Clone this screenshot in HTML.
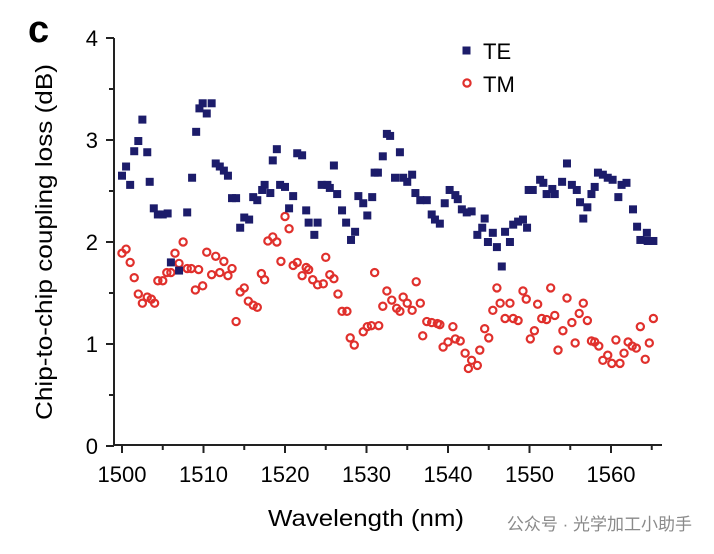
<!DOCTYPE html>
<html><head><meta charset="utf-8"><style>
html,body{margin:0;padding:0;background:#fff;}
svg{display:block;font-family:"Liberation Sans",Arial,sans-serif;}
</style></head><body>
<svg id="chart" width="714" height="554" viewBox="0 0 714 554" xmlns="http://www.w3.org/2000/svg">
<text x="28" y="42" font-size="38" font-weight="bold">c</text>
<g id="axes"></g>
<g id="marks"></g>
<text transform="translate(52,242) rotate(-90)" text-anchor="middle" font-size="23" textLength="356" lengthAdjust="spacingAndGlyphs">Chip-to-chip coupling loss (dB)</text>
<text x="366" y="526" text-anchor="middle" font-size="23" textLength="196" lengthAdjust="spacingAndGlyphs">Wavelength (nm)</text>
<g>
<rect x="462.5" y="46.5" width="8" height="8" fill="#1c1c6a"/>
<text x="483" y="59" font-size="22">TE</text>
<circle cx="467" cy="83" r="3.6" fill="none" stroke="#e0302c" stroke-width="2.2"/>
<text x="483" y="92" font-size="22">TM</text>
</g>
<text x="692" y="530" text-anchor="end" font-size="17" fill="#8a8a8a" font-family="'Liberation Sans','Noto Sans CJK SC',sans-serif">公众号 · 光学加工小助手</text>
</svg>
<script>
const xTicks=[1500,1510,1520,1530,1540,1550,1560];
const yTicks=[0,1,2,3,4];
const teWl=[1500.0,1500.5,1501.0,1501.5,1502.0,1502.5,1503.1,1503.4,1503.9,1504.4,1505.0,1505.6,1506.0,1507.0,1508.0,1508.6,1509.1,1509.5,1509.9,1510.4,1511.0,1511.5,1512.0,1512.5,1513.0,1513.5,1514.0,1514.5,1515.0,1515.6,1516.1,1516.6,1517.2,1517.5,1518.2,1518.5,1519.0,1519.4,1520.0,1520.5,1521.0,1521.5,1522.1,1522.6,1522.9,1523.6,1524.0,1524.5,1525.2,1525.5,1526.0,1526.4,1527.0,1527.5,1528.1,1528.6,1529.0,1529.6,1530.1,1530.7,1531.0,1531.4,1532.0,1532.5,1532.9,1534.1,1533.5,1534.5,1535.0,1535.6,1536.0,1536.6,1537.4,1538.0,1538.4,1539.0,1539.6,1540.2,1540.9,1541.2,1541.7,1542.3,1542.9,1543.6,1544.2,1544.5,1544.9,1545.5,1546.0,1546.6,1547.0,1547.6,1548.0,1548.6,1549.2,1549.7,1549.9,1550.4,1551.3,1551.7,1552.1,1552.8,1553.1,1554.0,1554.6,1555.2,1555.8,1556.2,1556.6,1557.1,1557.6,1558.0,1558.4,1559.0,1559.6,1560.2,1560.9,1561.3,1561.9,1562.7,1563.2,1563.6,1564.4,1564.5,1565.2];
const teLoss=[2.65,2.74,2.56,2.89,2.99,3.20,2.88,2.59,2.33,2.27,2.27,2.28,1.80,1.72,2.29,2.63,3.08,3.31,3.36,3.26,3.36,2.77,2.74,2.70,2.65,2.43,2.43,2.14,2.24,2.22,2.44,2.41,2.51,2.56,2.48,2.80,2.91,2.56,2.54,2.33,2.45,2.87,2.85,2.31,2.19,2.07,2.19,2.56,2.56,2.53,2.75,2.47,2.31,2.19,2.02,2.10,2.45,2.38,2.26,2.44,2.68,2.68,2.84,3.06,3.04,2.88,2.63,2.63,2.59,2.66,2.48,2.41,2.41,2.27,2.22,2.18,2.38,2.51,2.46,2.42,2.32,2.29,2.30,2.07,2.14,2.23,2.00,2.09,1.95,1.76,2.10,2.00,2.17,2.20,2.22,2.14,2.51,2.51,2.61,2.58,2.47,2.52,2.47,2.59,2.77,2.56,2.51,2.39,2.23,2.34,2.47,2.54,2.68,2.66,2.63,2.61,2.44,2.56,2.58,2.32,2.15,2.02,2.09,2.01,2.01];
const tmWl=[1500.0,1500.5,1501.0,1501.5,1502.0,1502.5,1503.1,1503.6,1504.0,1504.4,1505.0,1505.5,1506.0,1506.5,1507.0,1507.5,1508.0,1508.5,1509.0,1509.4,1509.9,1510.4,1511.0,1511.5,1512.0,1512.5,1513.0,1513.5,1514.0,1514.5,1515.0,1515.5,1516.1,1516.6,1517.1,1517.5,1517.9,1518.5,1519.0,1519.5,1520.0,1520.5,1521.0,1521.5,1522.1,1522.6,1522.9,1523.4,1524.0,1524.7,1525.0,1525.5,1526.0,1526.5,1527.0,1527.6,1528.0,1528.5,1529.6,1530.1,1530.6,1531.5,1531.0,1532.0,1532.5,1533.1,1533.7,1534.1,1534.5,1535.0,1535.6,1536.1,1536.6,1536.9,1537.4,1538.0,1538.7,1539.0,1539.4,1540.0,1540.6,1540.9,1541.5,1542.1,1542.5,1542.9,1543.6,1543.9,1544.5,1545.0,1545.5,1546.0,1546.4,1547.0,1547.6,1548.0,1548.6,1549.2,1549.6,1550.1,1550.6,1551.0,1551.5,1552.1,1552.6,1553.1,1553.5,1554.1,1554.6,1555.2,1555.6,1556.1,1556.6,1557.1,1557.6,1558.0,1558.5,1559.0,1559.6,1560.1,1560.6,1561.1,1561.6,1562.1,1562.6,1563.1,1563.6,1564.2,1564.7,1565.2];
const tmLoss=[1.89,1.93,1.80,1.65,1.49,1.40,1.46,1.44,1.40,1.62,1.62,1.70,1.70,1.89,1.79,2.00,1.74,1.74,1.53,1.73,1.57,1.90,1.68,1.86,1.70,1.81,1.67,1.74,1.22,1.51,1.55,1.42,1.38,1.36,1.69,1.63,2.01,2.05,2.00,1.81,2.25,2.13,1.77,1.80,1.67,1.75,1.73,1.63,1.58,1.59,1.85,1.68,1.64,1.49,1.32,1.32,1.06,0.99,1.12,1.17,1.18,1.18,1.70,1.37,1.52,1.43,1.35,1.32,1.46,1.40,1.33,1.61,1.40,1.08,1.22,1.21,1.20,1.19,0.97,1.02,1.17,1.05,1.03,0.91,0.76,0.84,0.79,0.94,1.15,1.06,1.33,1.55,1.40,1.25,1.40,1.25,1.23,1.52,1.44,1.05,1.13,1.39,1.25,1.24,1.55,1.28,0.94,1.13,1.45,1.21,1.01,1.30,1.40,1.23,1.03,1.02,0.98,0.84,0.89,0.81,1.04,0.81,0.91,1.02,0.98,0.96,1.17,0.85,1.01,1.25];

const NS='http://www.w3.org/2000/svg';
const X0=122, XS=8.15, Y0=446, YS=102;
function xScale(w){return X0+(w-1500)*XS;}
function yScale(v){return Y0-v*YS;}
function mk(tag,attrs,parent){const e=document.createElementNS(NS,tag);for(const k in attrs)e.setAttribute(k,attrs[k]);parent.appendChild(e);return e;}
const axes=document.getElementById('axes');
const marks=document.getElementById('marks');
const yAxis=mk('line',{x1:114,y1:yScale(4),x2:114,y2:Y0,stroke:'#222','stroke-width':2},axes);


const xAxis=mk('line',{x1:113,y1:445,x2:662,y2:445,stroke:'#222','stroke-width':2},axes);


for(let v=0;v<=4;v+=0.5){
  const major=Number.isInteger(v);
  const t=mk('line',{x1:major?106:109,y1:yScale(v),x2:114,y2:yScale(v),stroke:'#222','stroke-width':2},axes);
  
  
}
yTicks.forEach(v=>{
  const t=mk('text',{x:98,y:yScale(v)+8,'text-anchor':'end','font-size':22},axes);
  t.textContent=v;
  
  
});
for(let w=1500;w<=1565;w+=5){
  const major=w%10===0;
  const t=mk('line',{x1:xScale(w),y1:445,x2:xScale(w),y2:major?453:450,stroke:'#222','stroke-width':2},axes);
  
  
}
xTicks.forEach(w=>{
  const t=mk('text',{x:xScale(w),y:482,'text-anchor':'middle','font-size':22},axes);
  t.textContent=w;
  
  
});
tmWl.forEach((w,i)=>{
  const c=mk('circle',{cx:xScale(w),cy:yScale(tmLoss[i]),r:3.6,fill:'none',stroke:'#e0302c','stroke-width':2.2},marks);
  
  
});
teWl.forEach((w,i)=>{
  const r=mk('rect',{x:xScale(w)-4,y:yScale(teLoss[i])-4,width:8,height:8,fill:'#1c1c6a'},marks);
  
  
});
</script>
</body></html>
